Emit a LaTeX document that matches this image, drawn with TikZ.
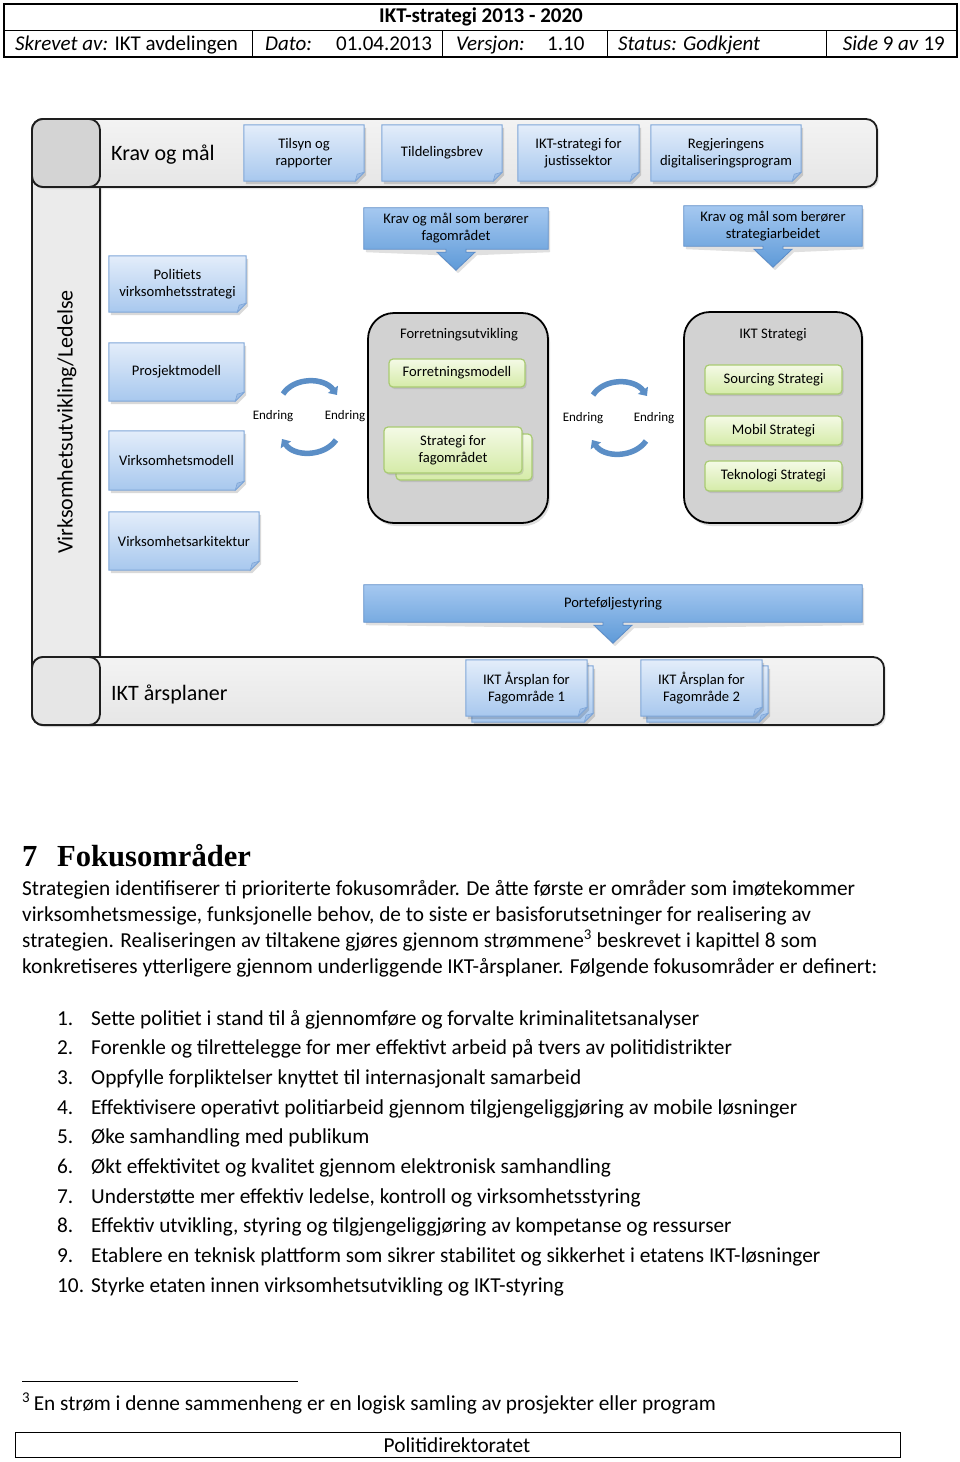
\documentclass[tikz,border=0pt]{standalone}
\usepackage{fontspec}
\setmainfont{Carlito}
\newfontfamily\headfont{Liberation Serif}
\usetikzlibrary{arrows.meta,shadows,calc}
\pgfdeclarelayer{bands}
\pgfdeclarelayer{shapes}
\pgfsetlayers{bands,shapes,main}
\definecolor{docTop}{HTML}{E3EDFA}
\definecolor{docBot}{HTML}{A8C8EE}
\definecolor{docLine}{HTML}{7EA6D8}
\definecolor{docFold}{HTML}{9DBDE6}
\definecolor{arrTop}{HTML}{A5C8F0}
\definecolor{arrBot}{HTML}{5E9AD8}
\definecolor{arrLine}{HTML}{5B8CC8}
\definecolor{grnTop}{HTML}{F4FAE6}
\definecolor{grnBot}{HTML}{D5EBA8}
\definecolor{grnLine}{HTML}{A9CB72}
\definecolor{cycleBlue}{HTML}{5B8EC6}
\definecolor{contFill}{HTML}{D2D2D2}
\definecolor{bandTop}{HTML}{F3F3F3}
\definecolor{bandBot}{HTML}{E6E6E6}
\definecolor{vband}{HTML}{EBEBEB}
\definecolor{cornerFill}{HTML}{D4D4D4}
\definecolor{bandLine}{HTML}{1E1E1E}

\newcommand\docshape[3]{%
 \fill[black,opacity=.15] ($(#1.north west)+(#2+2,#3+3)$) -- ($(#1.north east)+(#2+2,#3+3)$) -- ($(#1.south east)+(#2+2,#3-6)$) -- ($(#1.south east)+(#2-7,#3+3)$) -- ($(#1.south west)+(#2+2,#3+3)$) -- cycle;
 \shadedraw[top color=docTop,bottom color=docBot,draw=docLine,line width=1pt] ($(#1.north west)+(#2,#3)$) -- ($(#1.north east)+(#2,#3)$) -- ($(#1.south east)+(#2,#3-9)$) -- ($(#1.south east)+(#2-9,#3)$) -- ($(#1.south west)+(#2,#3)$) -- cycle;
 \filldraw[fill=docFold,draw=docLine,line width=.6pt] ($(#1.south east)+(#2,#3-9)$) -- ($(#1.south east)+(#2-7,#3-7)$) -- ($(#1.south east)+(#2-9,#3)$) -- cycle;
}
\newcommand\calloutshape[1]{%
 \fill[black,opacity=.12] ($(#1.north west)+(2,3)$) -- ($(#1.north east)+(2,3)$) -- ($(#1.south east)+(2,3)$) -- ($(#1.south)+(21,6)$) -- ($(#1.south)+(2,24)$) -- ($(#1.south)+(-17,6)$) -- ($(#1.south west)+(2,3)$) -- cycle;
 \shadedraw[top color=arrTop,bottom color=arrBot,draw=arrLine,line width=.8pt] (#1.north west) -- (#1.north east) -- (#1.south east) -- ($(#1.south)+(10,0)$) -- ($(#1.south)+(10,3)$) -- ($(#1.south)+(19,3)$) -- ($(#1.south)+(0,21)$) -- ($(#1.south)+(-19,3)$) -- ($(#1.south)+(-10,3)$) -- ($(#1.south)+(-10,0)$) -- (#1.south west) -- cycle;
}

\tikzset{
 hdrtxt/.style={anchor=base west, inner sep=0pt, font=\fontsize{21}{25}\selectfont},
 bodytxt/.style={anchor=base west, inner sep=0pt, font=\fontsize{21.3}{25}\selectfont},
 bdoc/.style 2 args={inner sep=2pt, align=center, font=\fontsize{14.6}{17}\selectfont, minimum width=#1pt, minimum height=#2pt},
 callout/.style 2 args={inner sep=2pt, align=center, font=\fontsize{14.6}{17}\selectfont, minimum width=#1pt, minimum height=#2pt},
 gbox/.style 2 args={top color=grnTop, bottom color=grnBot, draw=grnLine, line width=1.2pt, rounded corners=4pt, minimum width=#1pt, minimum height=#2pt, inner sep=2pt, align=center, font=\fontsize{14.6}{17}\selectfont, drop shadow={opacity=.25,shadow xshift=1.5pt,shadow yshift=-2pt}},
 cont/.style 2 args={fill=contFill, draw=black, line width=1.8pt, rounded corners=26pt, minimum width=#1pt, minimum height=#2pt, drop shadow={opacity=.25,shadow xshift=2pt,shadow yshift=-3pt}},
 band/.style={draw=bandLine, line width=1.8pt, rounded corners=11pt},
 bandlbl/.style={anchor=west, inner sep=0pt, font=\fontsize{22}{26}\selectfont},
 endr/.style={inner sep=0pt, font=\fontsize{13}{16}\selectfont},
 cyc/.style={draw=cycleBlue, line width=5.5pt, -{Triangle[length=7pt,width=12pt]}},
 ctitle/.style={inner sep=0pt, font=\fontsize{14.6}{17}\selectfont},
}

\begin{document}
\begin{tikzpicture}[x=1pt,y=-1pt]
\useasboundingbox (0,0) rectangle (960,1462);

% ---------- header ----------
\draw[line width=1.3pt] (4,4) rectangle (957,57);
\draw[line width=1pt] (4,30) -- (957,30);
\foreach \xx in {252,442,607,826} \draw[line width=1pt] (\xx,30) -- (\xx,57);
\node[inner sep=0pt, font=\fontsize{21}{25}\selectfont\bfseries] (title) at (481,17) {IKT-strategi 2013 - 2020};
\node[hdrtxt] (skrevet) at (15,50) {\textit{Skrevet av:} IKT avdelingen};
\node[hdrtxt] (dato) at (265,50) {\textit{Dato:}};
\node[hdrtxt] (datov) at (336,50) {01.04.2013};
\node[hdrtxt] (versjon) at (456,50) {\textit{Versjon:}};
\node[hdrtxt] (versjonv) at (547,50) {1.10};
\node[hdrtxt] (status) at (618,50) {\textit{Status: Godkjent}};
\node[hdrtxt, anchor=base east] (side) at (945,50) {\textit{Side} 9 \textit{av} 19};

% ---------- bands ----------
\begin{pgfonlayer}{bands}
\draw[band, fill=vband, drop shadow={opacity=.2,shadow xshift=2pt,shadow yshift=-2pt}] (32,119) rectangle (100,725);
\shadedraw[band, top color=bandTop, bottom color=bandBot, drop shadow={opacity=.2,shadow xshift=2pt,shadow yshift=-2pt}] (32,119) rectangle (877,187);
\draw[band, fill=cornerFill] (32,119) rectangle (100,187);
\shadedraw[band, top color=bandTop, bottom color=bandBot, drop shadow={opacity=.2,shadow xshift=2pt,shadow yshift=-2pt}] (32,657) rectangle (884,725);
\draw[band, fill=bandBot] (32,657) rectangle (100,725);
\end{pgfonlayer}
\node[bandlbl] (kravmaal) at (111,155) {Krav og mål};
\node[bandlbl] (arsplaner) at (111,694) {IKT årsplaner};
\node[inner sep=0pt, rotate=90, font=\fontsize{22}{26}\selectfont] (ledelse) at (67,422) {Virksomhetsutvikling/Ledelse};

% ---------- documents ----------
\node[bdoc={120}{56}] (tilsyn) at (304,153) {Tilsyn og\\rapporter};
\node[bdoc={120}{56}] (tildeling) at (442,153) {Tildelingsbrev};
\node[bdoc={121}{56}] (iktjust) at (578.5,153) {IKT-strategi for\\justissektor};
\node[bdoc={150}{56}] (regj) at (726,153) {Regjeringens\\digitaliseringsprogram};
\node[bdoc={137}{56}] (politi) at (177.5,284) {Politiets\\virksomhetsstrategi};
\node[bdoc={135}{58}] (prosjekt) at (176.5,372) {Prosjektmodell};
\node[bdoc={135}{59}] (virkmod) at (176.5,460.5) {Virksomhetsmodell};
\node[bdoc={150}{58}] (virkark) at (184,541) {Virksomhetsarkitektur};
\node[bdoc={121}{56}] (ars1) at (526.5,688) {IKT Årsplan for\\Fagområde 1};
\node[bdoc={121}{56}] (ars2) at (701.5,688) {IKT Årsplan for\\Fagområde 2};

% ---------- callouts ----------
\node[callout={184}{41}] (kravfag) at (456,228.5) {Krav og mål som berører\\fagområdet};
\node[callout={178}{40}] (kravstrat) at (773,226) {Krav og mål som berører\\strategiarbeidet};
\node[callout={498}{37}] (portef) at (613,603.5) {Porteføljestyring};

\begin{pgfonlayer}{shapes}
\foreach \n in {tilsyn,tildeling,iktjust,regj,politi,prosjekt,virkmod,virkark} {\docshape{\n}{0}{0}}
\foreach \n in {ars1,ars2} {\docshape{\n}{6}{6}\docshape{\n}{0}{0}}
\foreach \n in {kravfag,kravstrat,portef} {\calloutshape{\n}}
\end{pgfonlayer}

% ---------- containers ----------
\node[cont={180}{210}] (fu) at (458,418) {};
\node[ctitle] (futitle) at (459,335) {Forretningsutvikling};
\node[gbox={136}{28}] (fmodell) at (457,373) {Forretningsmodell};
\node[gbox={136}{46}] (strat2) at (464,457) {};
\node[gbox={138}{46}] (strat) at (453,450) {Strategi for\\fagområdet};

\node[cont={178}{211}] (ikts) at (773,417.5) {};
\node[ctitle] (iktstitle) at (773,335) {IKT Strategi};
\node[gbox={137}{29}] (sourcing) at (773.5,379.5) {Sourcing Strategi};
\node[gbox={137}{29}] (mobil) at (773.5,430.5) {Mobil Strategi};
\node[gbox={137}{30}] (tekn) at (773.5,476) {Teknologi Strategi};

% ---------- change cycles ----------
\node[endr] (e1) at (273,416) {Endring};
\node[endr] (e2) at (345,416) {Endring};
\node[endr] (e3) at (583,418) {Endring};
\node[endr] (e4) at (654,418) {Endring};
\coordinate (a1s) at (283,394); \coordinate (a1e) at (337,395);
\coordinate (b1s) at (336,440); \coordinate (b1e) at (282,439);
\coordinate (a2s) at (593,395); \coordinate (a2e) at (647,396);
\coordinate (b2s) at (646,441); \coordinate (b2e) at (592,440);
\draw[cyc] (a1s) .. controls (294,377) and (324,377) .. (a1e);
\draw[cyc] (b1s) .. controls (324,457) and (294,457) .. (b1e);
\draw[cyc] (a2s) .. controls (604,378) and (634,378) .. (a2e);
\draw[cyc] (b2s) .. controls (634,458) and (604,458) .. (b2e);

% ---------- text ----------
\node[anchor=base west, inner sep=0pt, font=\headfont\bfseries\fontsize{30.6}{36}\selectfont] (h7) at (22,866) {7};
\node[anchor=base west, inner sep=0pt, font=\headfont\bfseries\fontsize{30.6}{36}\selectfont] (hfok) at (57,866) {Fokusområder};
\node[bodytxt] (p1) at (22,895) {Strategien identifiserer ti prioriterte fokusområder. De åtte første er områder som imøtekommer};
\node[bodytxt] (p2) at (22,921) {virksomhetsmessige, funksjonelle behov, de to siste er basisforutsetninger for realisering av};
\node[bodytxt] (p3) at (22,947) {strategien. Realiseringen av tiltakene gjøres gjennom strømmene\textsuperscript{3} beskrevet i kapittel 8 som};
\node[bodytxt] (p4) at (22,973) {konkretiseres ytterligere gjennom underliggende IKT-årsplaner. Følgende fokusområder er definert:};

\node[bodytxt] (l1) at (57,1025) {\makebox[34pt][l]{1.}Sette politiet i stand til å gjennomføre og forvalte kriminalitetsanalyser};
\node[bodytxt] (l2) at (57,1054.7) {\makebox[34pt][l]{2.}Forenkle og tilrettelegge for mer effektivt arbeid på tvers av politidistrikter};
\node[bodytxt] (l3) at (57,1084.4) {\makebox[34pt][l]{3.}Oppfylle forpliktelser knyttet til internasjonalt samarbeid};
\node[bodytxt] (l4) at (57,1114.1) {\makebox[34pt][l]{4.}Effektivisere operativt politiarbeid gjennom tilgjengeliggjøring av mobile løsninger};
\node[bodytxt] (l5) at (57,1143.8) {\makebox[34pt][l]{5.}Øke samhandling med publikum};
\node[bodytxt] (l6) at (57,1173.5) {\makebox[34pt][l]{6.}Økt effektivitet og kvalitet gjennom elektronisk samhandling};
\node[bodytxt] (l7) at (57,1203.2) {\makebox[34pt][l]{7.}Understøtte mer effektiv ledelse, kontroll og virksomhetsstyring};
\node[bodytxt] (l8) at (57,1232.9) {\makebox[34pt][l]{8.}Effektiv utvikling, styring og tilgjengeliggjøring av kompetanse og ressurser};
\node[bodytxt] (l9) at (57,1262.6) {\makebox[34pt][l]{9.}Etablere en teknisk plattform som sikrer stabilitet og sikkerhet i etatens IKT-løsninger};
\node[bodytxt] (l10) at (57,1292.3) {\makebox[34pt][l]{10.}Styrke etaten innen virksomhetsutvikling og IKT-styring};

\draw[line width=1pt] (22,1381) -- (298,1381);
\node[bodytxt] (fn) at (22,1410) {\textsuperscript{3}\,En strøm i denne sammenheng er en logisk samling av prosjekter eller program};
\draw[line width=1pt] (15,1432) rectangle (900,1457);
\node[inner sep=0pt, font=\fontsize{21.3}{25}\selectfont] (footer) at (457,1445) {Politidirektoratet};
\end{tikzpicture}
\end{document}
